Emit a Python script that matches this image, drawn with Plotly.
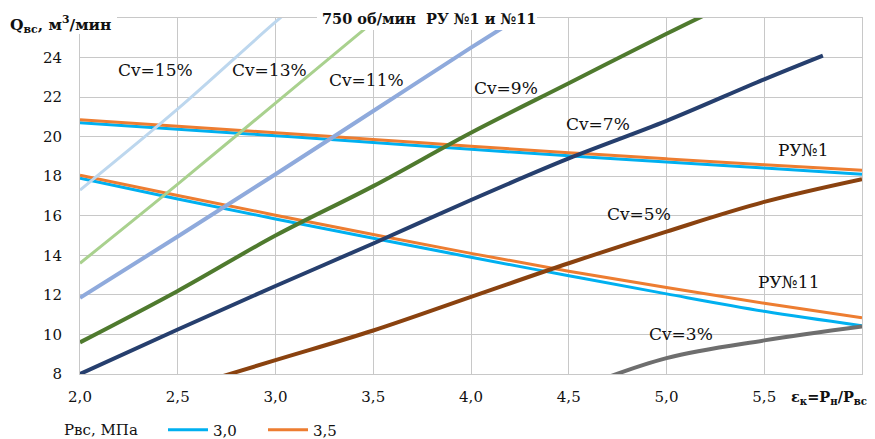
import plotly.graph_objects as go

# ---------------- data ----------------
x_ru = [2.0, 2.5, 3.0, 3.5, 4.0, 4.5, 5.0, 5.5, 6.0]
ru1_30 = [20.7, 20.38, 20.05, 19.7, 19.36, 19.03, 18.72, 18.41, 18.1]
ru1_35 = [20.85, 20.53, 20.2, 19.86, 19.52, 19.19, 18.88, 18.58, 18.3]
ru11_30 = [17.9, 16.85, 15.84, 14.86, 13.9, 12.97, 12.05, 11.17, 10.44]
ru11_35 = [18.05, 17.03, 16.03, 15.05, 14.1, 13.2, 12.37, 11.58, 10.84]

cv15_x = [2.0, 2.5, 3.0, 3.5]
cv15_y = [17.3, 21.4, 25.8, 30.0]
cv13_x = [2.0, 2.5, 3.0, 3.5, 4.0]
cv13_y = [13.6, 17.6, 21.7, 25.8, 29.9]
cv11_x = [2.0, 2.5, 3.0, 3.5, 4.0, 4.5]
cv11_y = [11.85, 14.95, 18.1, 21.3, 24.5, 27.6]
cv9_x = [2.0, 2.5, 3.0, 3.5, 4.0, 4.5, 5.0, 5.5]
cv9_y = [9.6, 12.2, 15.0, 17.5, 20.2, 22.7, 25.2, 27.6]
cv7_x = [2.0, 2.5, 3.0, 3.5, 4.0, 4.5, 5.0, 5.5, 5.8]
cv7_y = [8.0, 10.25, 12.45, 14.6, 16.8, 18.9, 20.8, 22.9, 24.1]
cv5_x = [2.5, 3.0, 3.5, 4.0, 4.5, 5.0, 5.5, 6.0]
cv5_y = [7.2, 8.7, 10.2, 11.9, 13.6, 15.2, 16.7, 17.85]
cv3_x = [4.5, 5.0, 5.5, 6.0]
cv3_y = [7.1, 8.8, 9.7, 10.4]

x_tickvals = [2.0, 2.5, 3.0, 3.5, 4.0, 4.5, 5.0, 5.5, 6.0]
x_ticktext = ["2,0", "2,5", "3,0", "3,5", "4,0", "4,5", "5,0", "5,5", ""]
y_tickvals = [8, 10, 12, 14, 16, 18, 20, 22, 24, 26]
y_ticktext = ["8", "10", "12", "14", "16", "18", "20", "22", "24", ""]

legend_title = "Рвс, МПа"
legend_names = ["3,0", "3,5"]
cv_labels = ["Cv=15%", "Cv=13%", "Cv=11%", "Cv=9%", "Cv=7%", "Cv=5%", "Cv=3%"]
ru_labels = ["РУ№1", "РУ№11"]

FONT = "DejaVu Serif"
BLUE = "#00B0F0"
ORANGE = "#ED7D31"
GRID = "#C8C8C8"
TXT = "#111111"

fig = go.Figure()

# RU lines
fig.add_trace(go.Scatter(x=x_ru, y=ru1_30, mode="lines", name=legend_names[0],
                         legendgroup="a", line=dict(color=BLUE, width=3, shape="spline")))
fig.add_trace(go.Scatter(x=x_ru, y=ru1_35, mode="lines", name=legend_names[1],
                         legendgroup="b", line=dict(color=ORANGE, width=3, shape="spline")))
fig.add_trace(go.Scatter(x=x_ru, y=ru11_30, mode="lines", name=legend_names[0],
                         legendgroup="a", showlegend=False,
                         line=dict(color=BLUE, width=3, shape="spline")))
fig.add_trace(go.Scatter(x=x_ru, y=ru11_35, mode="lines", name=legend_names[1],
                         legendgroup="b", showlegend=False,
                         line=dict(color=ORANGE, width=3, shape="spline")))

cv_series = [
    (cv15_x, cv15_y, "#BDD7EE", 3),
    (cv13_x, cv13_y, "#A9D18E", 3),
    (cv11_x, cv11_y, "#8FAADC", 4),
    (cv9_x, cv9_y, "#4F7A2E", 4),
    (cv7_x, cv7_y, "#263F6E", 4),
    (cv5_x, cv5_y, "#8A420F", 4),
    (cv3_x, cv3_y, "#6E6E6E", 4),
]
for (xs, ys, c, w), lab in zip(cv_series, cv_labels):
    fig.add_trace(go.Scatter(x=xs, y=ys, mode="lines", name=lab, showlegend=False,
                             line=dict(color=c, width=w, shape="spline", smoothing=1.0)))

# white boxes behind title and y-axis title (they hide lines/grid in the original)
fig.add_shape(type="rect", xref="paper", yref="paper", layer="above",
              x0=(317 - 80) / 782, x1=(537 - 80) / 782,
              y0=(374 - 30) / 356, y1=(374 + 5) / 356 + 0.1,
              fillcolor="white", line=dict(width=0))
fig.add_shape(type="rect", xref="paper", yref="paper", layer="above",
              x0=-0.11, x1=(117 - 80) / 782,
              y0=(374 - 34) / 356, y1=1.1,
              fillcolor="white", line=dict(width=0))


def px2paper(px, py):
    return (px - 80) / 782, (374 - py) / 356


annots = [
    (cv_labels[0], 155, 70), (cv_labels[1], 269, 70), (cv_labels[2], 366, 80),
    (cv_labels[3], 506, 88), (cv_labels[4], 598, 124), (cv_labels[5], 639, 214),
    (cv_labels[6], 681, 334), (ru_labels[0], 803, 150), (ru_labels[1], 788, 282),
]
for t, px, py in annots:
    ax, ay = px2paper(px, py)
    fig.add_annotation(x=ax, y=ay, xref="paper", yref="paper", text=t, showarrow=False,
                       font=dict(family=FONT, size=17, color=TXT),
                       xanchor="center", yanchor="middle")

# title
tx, ty = px2paper(429, 18)
fig.add_annotation(x=tx, y=ty, xref="paper", yref="paper",
                   text="<b>750 об/мин  РУ №1 и №11</b>", showarrow=False,
                   font=dict(family=FONT, size=14.5, color=TXT),
                   xanchor="center", yanchor="middle")
# y axis title
qx, qy = px2paper(8, 24)
fig.add_annotation(x=qx, y=qy, xref="paper", yref="paper",
                   text="<b>Q<sub>вс</sub>, м<sup>3</sup>/мин</b>", showarrow=False,
                   font=dict(family=FONT, size=15.5, color=TXT),
                   xanchor="left", yanchor="middle")
# x axis title
ex, ey = px2paper(789, 397)
fig.add_annotation(x=ex, y=ey, xref="paper", yref="paper",
                   text="<b>ε<sub>к</sub>=P<sub>н</sub>/P<sub>вс</sub></b>", showarrow=False,
                   font=dict(family=FONT, size=14.5, color=TXT),
                   xanchor="left", yanchor="middle")
# legend title
lgx, lgy = px2paper(62, 430)
fig.add_annotation(x=lgx, y=lgy, xref="paper", yref="paper",
                   text=legend_title, showarrow=False,
                   font=dict(family=FONT, size=15, color=TXT),
                   xanchor="left", yanchor="middle")

lx, ly = px2paper(163, 430)
fig.update_layout(
    width=875, height=439,
    margin=dict(l=80, r=13, t=18, b=65, autoexpand=False),
    plot_bgcolor="white", paper_bgcolor="white",
    font=dict(family=FONT, size=15, color=TXT),
    legend=dict(orientation="h", x=lx, y=ly, xanchor="left", yanchor="middle",
                font=dict(family=FONT, size=15, color=TXT), bgcolor="rgba(0,0,0,0)",
                itemwidth=40, entrywidth=45, tracegroupgap=0),
    xaxis=dict(range=[2.0, 6.0], tickvals=x_tickvals, ticktext=x_ticktext,
               showgrid=True, gridcolor=GRID, gridwidth=1,
               showline=True, linecolor=GRID, linewidth=1,
               mirror=True, zeroline=False, automargin=False,
               ticks="outside", ticklen=9, tickcolor="rgba(0,0,0,0)",
               tickfont=dict(family=FONT, size=15, color=TXT)),
    yaxis=dict(range=[8, 26], tickvals=y_tickvals, ticktext=y_ticktext,
               showgrid=True, gridcolor=GRID, gridwidth=1,
               showline=True, linecolor=GRID, linewidth=1,
               mirror=True, zeroline=False, automargin=False,
               ticks="outside", ticklen=14, tickcolor="rgba(0,0,0,0)",
               tickfont=dict(family=FONT, size=15, color=TXT)),
)

fig.write_html("out.html", config={"displayModeBar": False},
               post_script="document.body.style.margin='0px';")
